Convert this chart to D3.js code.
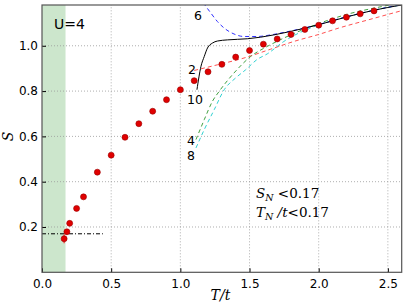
<!DOCTYPE html>
<html>
<head>
<meta charset="utf-8">
<script src="https://cdn.jsdelivr.net/npm/d3@7"></script>
<style>
  body { margin: 0; background: #fff; }
  svg { display: block; }
</style>
</head>
<body>
<div id="chart"></div>
<script>
// QMC data points
const qmcT = [0.16, 0.18, 0.2, 0.25, 0.3, 0.4, 0.5, 0.6, 0.7, 0.8, 0.9, 1.0, 1.1, 1.2, 1.3, 1.4, 1.5, 1.6, 1.7, 1.8, 1.9, 2.0, 2.1, 2.2, 2.3, 2.4];
const qmcS = [0.148, 0.179, 0.216, 0.282, 0.333, 0.442, 0.517, 0.596, 0.656, 0.711, 0.762, 0.806, 0.846, 0.885, 0.918, 0.95, 0.979, 1.007, 1.03, 1.05, 1.072, 1.091, 1.11, 1.126, 1.141, 1.154];
const qmcErr = [0.02, 0.012, 0.01, 0.01, 0.01, 0.008, 0.006, 0.005, 0.005, 0.004, 0.004, 0.004, 0.004, 0.004, 0.004, 0.004, 0.004, 0.004, 0.004, 0.004, 0.004, 0.004, 0.004, 0.004, 0.004, 0.004];

// series expansion curves, order 2..10
const order2 = [[1.10, 0.891], [1.268, 0.916], [1.46, 0.946], [1.653, 0.985], [1.82, 1.019], [2.0, 1.05], [2.144, 1.078], [2.35, 1.113], [2.6, 1.155]];
const order4 = [[1.113, 0.586], [1.173, 0.674], [1.232, 0.755], [1.281, 0.799], [1.388, 0.880], [1.509, 0.953], [1.628, 0.997], [1.748, 1.034], [2.0, 1.098], [2.2, 1.138], [2.455, 1.173], [2.6, 1.19]];
const order6 = [[1.165, 1.19], [1.221, 1.144], [1.268, 1.107], [1.317, 1.078], [1.388, 1.052], [1.46, 1.041], [1.556, 1.041], [1.653, 1.048], [1.748, 1.059], [2.0, 1.094], [2.2, 1.128], [2.4, 1.157], [2.6, 1.182]];
const order8 = [[1.113, 0.549], [1.173, 0.630], [1.245, 0.718], [1.317, 0.806], [1.4, 0.858], [1.472, 0.894], [1.556, 0.94], [1.628, 0.964], [1.748, 1.019], [1.856, 1.056], [2.0, 1.092], [2.2, 1.127], [2.4, 1.157], [2.6, 1.181]];
const order10 = [[1.12, 0.806], [1.149, 0.909], [1.173, 0.953], [1.196, 0.990], [1.232, 1.012], [1.268, 1.021], [1.34, 1.026], [1.484, 1.031], [1.581, 1.038], [1.676, 1.048], [1.772, 1.060], [2.0, 1.093], [2.2, 1.127], [2.4, 1.157], [2.6, 1.18]];

const xTicks = [0.0, 0.5, 1.0, 1.5, 2.0, 2.5];
const yTicks = [0.2, 0.4, 0.6, 0.8, 1.0];

const W = 407, H = 307;
const margin = { top: 5, right: 5.3, bottom: 34.7, left: 42 };

const svg = d3.select('#chart').append('svg').attr('width', W).attr('height', H);

const x = d3.scaleLinear().domain([0, 2.6]).range([margin.left, W - margin.right]);
const y = d3.scaleLinear().domain([0, 1.18]).range([H - margin.bottom, margin.top]);

svg.append('defs').append('clipPath').attr('id', 'clip')
  .append('rect')
  .attr('x', margin.left).attr('y', margin.top)
  .attr('width', x(2.6) - x(0)).attr('height', y(0) - y(1.18));

// green band: T < T_N
svg.append('rect')
  .attr('x', x(0)).attr('y', y(1.18))
  .attr('width', x(0.17) - x(0)).attr('height', y(0) - y(1.18))
  .attr('fill', '#cce6cc');

// grid
const grid = svg.append('g').attr('stroke', '#999').attr('stroke-dasharray', '1,2').attr('stroke-width', 0.8);
grid.selectAll('.gx').data(xTicks.slice(1)).join('line')
  .attr('x1', (d) => x(d)).attr('x2', (d) => x(d))
  .attr('y1', y(0)).attr('y2', y(1.18));
grid.selectAll('.gy').data(yTicks).join('line')
  .attr('y1', (d) => y(d)).attr('y2', (d) => y(d))
  .attr('x1', x(0)).attr('x2', x(2.6));

// S_N level
svg.append('line')
  .attr('x1', x(0)).attr('x2', x(0.44))
  .attr('y1', y(0.17)).attr('y2', y(0.17))
  .attr('stroke', '#000').attr('stroke-width', 1)
  .attr('stroke-dasharray', '4,2,1,2');

const line = d3.line().x((d) => x(d[0])).y((d) => y(d[1])).curve(d3.curveMonotoneX);
const plot = svg.append('g').attr('clip-path', 'url(#clip)');

const curves = [
  { data: order2, color: '#ff5050', dash: '4,3' },
  { data: order4, color: '#40a040', dash: '4,3' },
  { data: order8, color: '#30d0d0', dash: '4,3' },
  { data: order6, color: '#3030ff', dash: '4,3' },
  { data: order10, color: '#000', dash: null },
];
curves.forEach((c) => {
  plot.append('path')
    .datum(c.data)
    .attr('d', line)
    .attr('fill', 'none')
    .attr('stroke', c.color)
    .attr('stroke-width', 1)
    .attr('stroke-dasharray', c.dash);
});

// error bars and points
const pts = qmcT.map((t, i) => ({ t, s: qmcS[i], e: qmcErr[i] }));
plot.append('g').selectAll('line').data(pts).join('line')
  .attr('x1', (d) => x(d.t)).attr('x2', (d) => x(d.t))
  .attr('y1', (d) => y(d.s - d.e)).attr('y2', (d) => y(d.s + d.e))
  .attr('stroke', '#f05050').attr('stroke-width', 1.5);
plot.append('g').selectAll('circle').data(pts).join('circle')
  .attr('cx', (d) => x(d.t)).attr('cy', (d) => y(d.s))
  .attr('r', 3)
  .attr('fill', '#e00000')
  .attr('stroke', '#900').attr('stroke-width', 0.6);

// axes
const xAxis = d3.axisBottom(x).tickValues(xTicks).tickFormat(d3.format('.1f')).tickSizeInner(-4).tickSizeOuter(0).tickPadding(7);
const yAxis = d3.axisLeft(y).tickValues(yTicks).tickFormat(d3.format('.1f')).tickSizeInner(-4).tickSizeOuter(0).tickPadding(4);

const gx = svg.append('g').attr('transform', `translate(0,${y(0)})`).call(xAxis);
const gy = svg.append('g').attr('transform', `translate(${x(0)},0)`).call(yAxis);
[gx, gy].forEach((g) => {
  g.select('.domain').remove();
  g.selectAll('text').attr('font-family', 'DejaVu Sans').attr('font-size', 12).attr('fill', '#000');
  g.selectAll('line').attr('stroke', '#000');
});

// frame
svg.append('rect')
  .attr('x', x(0)).attr('y', y(1.18))
  .attr('width', x(2.6) - x(0)).attr('height', y(0) - y(1.18))
  .attr('fill', 'none').attr('stroke', '#555').attr('stroke-width', 1.2);

// labels
svg.append('text')
  .attr('x', x(1.29)).attr('y', 300)
  .attr('text-anchor', 'middle')
  .attr('font-family', 'DejaVu Serif').attr('font-style', 'italic').attr('font-size', 14)
  .text('T/t');
svg.append('text')
  .attr('transform', `translate(13,${y(0.6)}) rotate(-90)`)
  .attr('text-anchor', 'middle')
  .attr('font-family', 'DejaVu Serif').attr('font-style', 'italic').attr('font-size', 14)
  .text('S');
svg.append('text')
  .attr('x', 54).attr('y', 29)
  .attr('font-family', 'DejaVu Sans').attr('font-size', 14)
  .text('U=4');

const orderLabels = [
  { txt: '6', x: 198, y: 20 },
  { txt: '2', x: 192, y: 74 },
  { txt: '10', x: 195, y: 104 },
  { txt: '4', x: 191, y: 145 },
  { txt: '8', x: 191, y: 160 },
];
svg.append('g').selectAll('text').data(orderLabels).join('text')
  .attr('x', (d) => d.x).attr('y', (d) => d.y)
  .attr('text-anchor', 'middle')
  .attr('font-family', 'DejaVu Sans').attr('font-size', 12.5)
  .text((d) => d.txt);

const note = svg.append('g').attr('font-family', 'DejaVu Serif').attr('font-size', 13.5);
const n1 = note.append('text').attr('x', 256).attr('y', 198);
n1.append('tspan').attr('font-style', 'italic').text('S');
n1.append('tspan').attr('font-style', 'italic').attr('font-size', 9.5).attr('dy', 3).text('N');
n1.append('tspan').attr('dy', -3).text(' <0.17');
const n2 = note.append('text').attr('x', 256).attr('y', 217);
n2.append('tspan').attr('font-style', 'italic').text('T');
n2.append('tspan').attr('font-style', 'italic').attr('font-size', 9.5).attr('dy', 3).text('N');
n2.append('tspan').attr('dy', -3).attr('font-style', 'italic').text(' /t');
n2.append('tspan').text('<0.17');
</script>
</body>
</html>
